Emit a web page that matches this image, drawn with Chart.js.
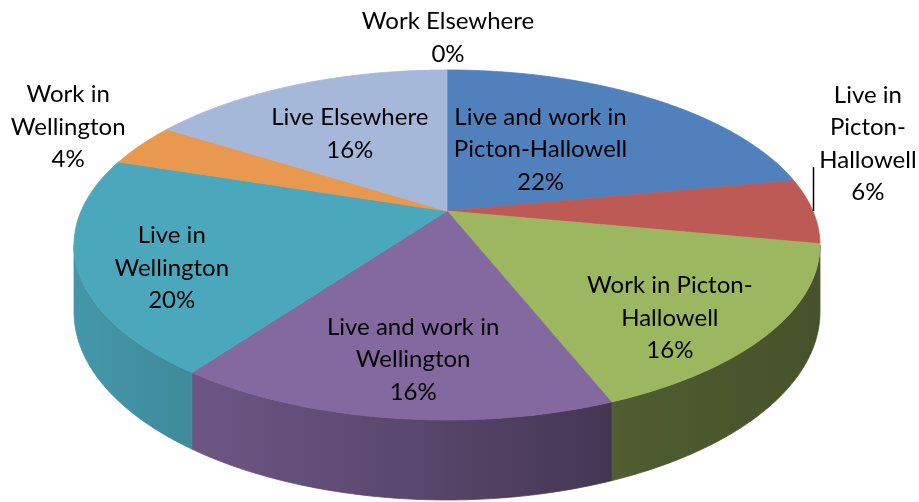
<!DOCTYPE html>
<html>
<head>
<meta charset="utf-8">
<script src="https://cdn.jsdelivr.net/npm/chart.js@4"></script>
<style>
  html, body { margin: 0; padding: 0; background: #ffffff; }
  #wrap { width: 919px; height: 502px; }
</style>
</head>
<body>
<div id="wrap"><canvas id="c" width="919" height="502"></canvas></div>
<script>
// ---- data ----
const categories = [
  'Live and work in Picton-Hallowell',
  'Live in Picton-Hallowell',
  'Work in Picton-Hallowell',
  'Live and work in Wellington',
  'Live in Wellington',
  'Work in Wellington',
  'Live Elsewhere',
  'Work Elsewhere'
];
const values = [22, 6, 16, 16, 20, 4, 16, 0];
const labelLines = [
  ['Live and work in', 'Picton-Hallowell'],
  ['Live in', 'Picton-', 'Hallowell'],
  ['Work in Picton-', 'Hallowell'],
  ['Live and work in', 'Wellington'],
  ['Live in', 'Wellington'],
  ['Work in', 'Wellington'],
  ['Live Elsewhere'],
  ['Work Elsewhere']
];

// ---- styles / layout ----
const colors = ['#5081bc', '#be5a56', '#9cb75f', '#8468a0', '#4ba8bc', '#e8994f', '#a5b8da', '#8fa7cf'];
const view = { cx: 447, cy: 211, A: 365.9, B: 168.4, p: 0.194, H: 64.5, x0: 75, x1: 821 };
// label anchor: radial fraction f of slice mid-angle, then offset
const labelPlace = [
  { f: 0.5, dx: -15, dy: -1 },
  { f: 1.0, dx: 55, dy: -67, leader: 44 },
  { f: 0.72, dx: 0, dy: 22 },
  { f: 0.76, dx: 7, dy: 0 },
  { f: 0.75, dx: -2, dy: 16 },
  { f: 1.0, dx: -73, dy: -18 },
  { f: 0.5, dx: -16, dy: -9 },
  { f: 1.0, dx: 1, dy: -32 }
];
const fontSpec = '24px Lato, "Open Sans", sans-serif';
const lineH = 32.5;

function shade(hex, k) {
  const n = parseInt(hex.slice(1), 16);
  const r = Math.round(((n >> 16) & 255) * k);
  const g = Math.round(((n >> 8) & 255) * k);
  const b = Math.round((n & 255) * k);
  return `rgb(${r},${g},${b})`;
}
// phi measured clockwise from the back (top of screen)
function proj(phi, f) {
  const w = 1 + view.p * f * Math.cos(phi);
  return {
    x: view.cx + view.A * f * Math.sin(phi) / w,
    y: view.cy - view.B * f * Math.cos(phi) / w,
    w: w
  };
}
function rimBottom(phi) {
  const t = proj(phi, 1);
  return { x: t.x, y: t.y + view.H / t.w };
}

const pie3d = {
  id: 'pie3d',
  beforeDatasetsDraw(chart) {
    const ctx = chart.ctx;
    const meta = chart.getDatasetMeta(0);
    const arcs = meta.data;
    const sil1 = Math.acos(-view.p);
    const sil2 = 2 * Math.PI - sil1;
    ctx.save();
    // side walls
    arcs.forEach((arc, i) => {
      const p0 = arc.startAngle + Math.PI / 2;
      const p1 = arc.endAngle + Math.PI / 2;
      const a = Math.max(p0, sil1), b = Math.min(p1, sil2);
      if (b <= a) return;
      const col = arc.options.backgroundColor;
      const g = ctx.createLinearGradient(view.x0, 0, view.x1, 0);
      g.addColorStop(0, shade(col, 0.9));
      g.addColorStop(0.45, shade(col, 0.68));
      g.addColorStop(0.75, shade(col, 0.5));
      g.addColorStop(1, shade(col, 0.45));
      ctx.beginPath();
      const steps = Math.max(8, Math.ceil((b - a) / 0.01));
      for (let s = 0; s <= steps; s++) {
        const ph = a + (b - a) * s / steps;
        const pt = proj(ph, 1);
        if (s === 0) ctx.moveTo(pt.x, pt.y); else ctx.lineTo(pt.x, pt.y);
      }
      for (let s = steps; s >= 0; s--) {
        const ph = a + (b - a) * s / steps;
        const pt = rimBottom(ph);
        ctx.lineTo(pt.x, pt.y);
      }
      ctx.closePath();
      ctx.fillStyle = g;
      ctx.strokeStyle = g;
      ctx.lineWidth = 0.8;
      ctx.fill();
      ctx.stroke();
    });
    // top faces
    arcs.forEach((arc, i) => {
      const p0 = arc.startAngle + Math.PI / 2;
      const p1 = arc.endAngle + Math.PI / 2;
      if (p1 - p0 <= 1e-6) return;
      const col = arc.options.backgroundColor;
      ctx.beginPath();
      ctx.moveTo(view.cx, view.cy);
      const steps = Math.max(4, Math.ceil((p1 - p0) / 0.01));
      for (let s = 0; s <= steps; s++) {
        const pt = proj(p0 + (p1 - p0) * s / steps, 1);
        ctx.lineTo(pt.x, pt.y);
      }
      ctx.closePath();
      ctx.fillStyle = col;
      ctx.strokeStyle = col;
      ctx.lineWidth = 0.8;
      ctx.fill();
      ctx.stroke();
    });
    ctx.restore();
    return false;
  },
  afterDraw(chart) {
    const ctx = chart.ctx;
    const meta = chart.getDatasetMeta(0);
    const total = values.reduce((s, v) => s + v, 0);
    ctx.save();
    ctx.font = fontSpec;
    ctx.fillStyle = '#000000';
    ctx.textAlign = 'center';
    ctx.textBaseline = 'middle';
    meta.data.forEach((arc, i) => {
      const mid = (arc.startAngle + arc.endAngle) / 2 + Math.PI / 2;
      const lp = labelPlace[i];
      const anchor = proj(mid, lp.f);
      const lines = labelLines[i].concat([Math.round(values[i] / total * 100) + '%']);
      const cx = anchor.x + lp.dx;
      const cy = anchor.y + lp.dy;
      const top = cy - (lines.length - 1) * lineH / 2;
      lines.forEach((t, k) => ctx.fillText(t, cx, top + k * lineH));
      if (lp.leader) {
        ctx.beginPath();
        ctx.strokeStyle = '#000000';
        ctx.lineWidth = 1.5;
        ctx.moveTo(Math.round(anchor.x) + 0.5, anchor.y);
        ctx.lineTo(Math.round(anchor.x) + 0.5, anchor.y - lp.leader);
        ctx.stroke();
      }
    });
    ctx.restore();
  }
};

new Chart(document.getElementById('c'), {
  type: 'pie',
  data: {
    labels: categories,
    datasets: [{ data: values, backgroundColor: colors, borderWidth: 0 }]
  },
  options: {
    responsive: false,
    animation: false,
    plugins: { legend: { display: false }, tooltip: { enabled: false } }
  },
  plugins: [pie3d]
});
</script>
</body>
</html>
